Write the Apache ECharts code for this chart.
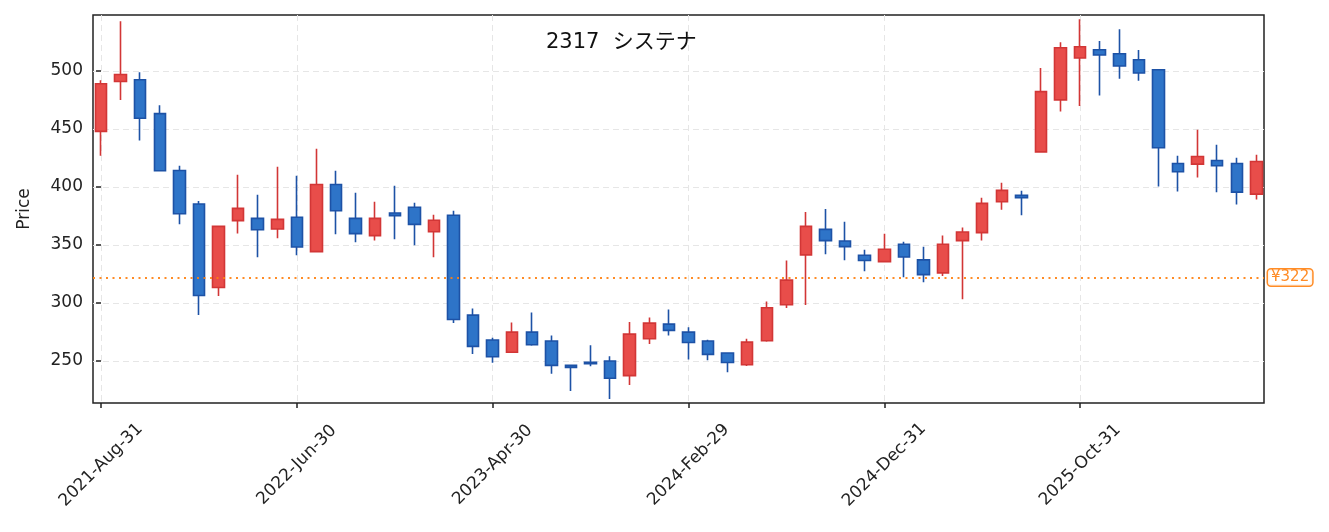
<!DOCTYPE html>
<html><head><meta charset="utf-8">
<script src="https://cdn.jsdelivr.net/npm/echarts@6/dist/echarts.min.js"></script>
<style>html,body{margin:0;padding:0;background:#fff}#c{width:1329px;height:532px}</style>
</head><body><div id="c"></div>
<script>
const dates = [
 '2021-Aug-31','2021-Sep-30','2021-Oct-31','2021-Nov-30','2021-Dec-31',
 '2022-Jan-31','2022-Feb-28','2022-Mar-31','2022-Apr-30','2022-May-31','2022-Jun-30','2022-Jul-31','2022-Aug-31','2022-Sep-30','2022-Oct-31','2022-Nov-30','2022-Dec-31',
 '2023-Jan-31','2023-Feb-28','2023-Mar-31','2023-Apr-30','2023-May-31','2023-Jun-30','2023-Jul-31','2023-Aug-31','2023-Sep-30','2023-Oct-31','2023-Nov-30','2023-Dec-31',
 '2024-Jan-31','2024-Feb-29','2024-Mar-31','2024-Apr-30','2024-May-31','2024-Jun-30','2024-Jul-31','2024-Aug-31','2024-Sep-30','2024-Oct-31','2024-Nov-30','2024-Dec-31',
 '2025-Jan-31','2025-Feb-28','2025-Mar-31','2025-Apr-30','2025-May-31','2025-Jun-30','2025-Jul-31','2025-Aug-31','2025-Sep-30','2025-Oct-31','2025-Nov-30','2025-Dec-31',
 '2026-Jan-31','2026-Feb-28','2026-Mar-31','2026-Apr-30','2026-May-31','2026-Jun-30','2026-Jul-31'
];
const opens  = [448,491,492.5,463.3,414.3,385.3,313.4,371,373,363.8,373.9,344.3,402.2,373,358.1,377.6,382.5,361.5,375.6,289.6,268.1,257.5,274.9,267.2,246.2,248.9,250,237.4,269.2,281.8,274.9,267.2,256.9,246.8,267.5,298.5,341.5,363.5,353.5,341.2,335.7,350.6,337.2,326,353.8,360.7,387.3,392.8,430.3,475.1,511.2,518.3,514.9,509.7,501.1,420.3,419.7,422.9,420.3,393.9];
const closes = [489,497,459.3,414,377,306.5,366.1,381.6,363.2,372.1,348.3,402.2,379.6,359.8,373,375.3,367.8,371.3,285.8,262.6,253.7,274.9,264,246.2,244.5,247.7,235.1,273.2,282.7,276.4,266,255.7,248.7,266.3,295.9,319.7,366.1,353.8,348.6,336.6,346.3,339.7,324.5,350.6,361.2,385.9,397.1,390.8,482.2,520.1,520.9,513.8,504.3,498.3,433.8,413.1,426.3,418.3,395.6,422];
const lows   = [427,475,440,414,368,289.6,306,360,339.4,355.8,341.2,344,359.2,352.4,353.8,354.9,349.8,339.4,282.7,256,248.6,257.5,263.2,239,224.2,245.4,217.3,229.4,264.6,272.1,251.4,250.6,240.4,245.7,266.6,295.6,298.2,342,336.9,327.4,335.7,322.2,317.9,323.3,303.3,353.8,380.4,375.6,430.3,465,469.9,478.8,493.4,491.7,400.5,396.2,408.3,395.4,385,389.3];
const highs  = [492,543,499,470.5,418.3,387.9,366.1,410.6,393.3,417.4,409.7,432.9,414,395.1,387.3,401.1,386.5,376.1,379.6,295.3,270.1,283.3,291.9,272.1,246.2,263.5,254,283.7,287.5,294.4,279,268.3,257,269.2,301.3,336.6,378.4,381,370.1,346,359.8,352.9,348.6,358.1,365,390.8,403.7,396.8,502.6,524.9,544.7,525.8,536.1,518.1,501.1,426.9,449.3,436.4,425.2,427.8];
const yTicks = [250,300,350,400,450,500];
const xTickIdx = [0,10,20,30,40,50];
const refPrice = 322;
const titleText = '2317  システナ';
const yName = 'Price';

const candles = dates.map((d,i)=>[i, opens[i], closes[i], lows[i], highs[i]]);
const F = 'DejaVu Sans, Noto Sans CJK JP, sans-serif';
const chart = echarts.init(document.getElementById('c'));
const grid = {color:'#e6e6e6', type:[6,4], width:1};
chart.setOption({
  animation:false,
  title:{text:titleText, left:541, top:27, textStyle:{fontFamily:F, fontSize:21, fontWeight:'normal', color:'#111'}},
  grid:{left:93, right:65, top:15, bottom:129, show:true, borderColor:'#222', borderWidth:1.5, backgroundColor:'transparent'},
  xAxis:{type:'value', min:-0.41, max:59.39,
    axisLine:{show:false},
    axisTick:{show:true, customValues:xTickIdx, length:5, lineStyle:{color:'#222', width:1.5}},
    axisLabel:{customValues:xTickIdx, formatter:v=>dates[v], rotate:45, align:'center', verticalAlign:'middle', margin:62, fontFamily:F, fontSize:17, color:'#222'},
    splitLine:{show:true, lineStyle:grid}},
  yAxis:{type:'value', min:213.8, max:548.3, name:yName, nameLocation:'middle', nameGap:60,
    nameTextStyle:{fontFamily:F, fontSize:17, color:'#222'},
    axisLine:{show:false},
    axisTick:{show:true, customValues:yTicks, length:5, lineStyle:{color:'#222', width:1.5}},
    axisLabel:{customValues:yTicks, margin:10, fontFamily:F, fontSize:17, color:'#222'},
    splitLine:{show:true, lineStyle:grid}},
  series:[{type:'candlestick', data:candles, encode:{x:0, y:[1,2,3,4]}, barWidth:12,
    itemStyle:{color:'#e84d4a', color0:'#2e74c8', borderColor:'#d23636', borderColor0:'#1d52a6', borderWidth:1.6},
    markLine:{silent:true, symbol:['none','none'], animation:false,
      lineStyle:{color:'#ff7f0e', type:[2,4.5], width:2, opacity:0.9},
      label:{show:true, position:'end', distance:4, formatter:'¥'+refPrice, color:'#ff7f0e', fontFamily:F, fontSize:15,
        backgroundColor:'#fff', borderColor:'#ff7f0e', borderWidth:1.5, borderRadius:3, padding:[1,3,0,3]},
      data:[{yAxis:refPrice}]}
  }]
});
</script></body></html>
